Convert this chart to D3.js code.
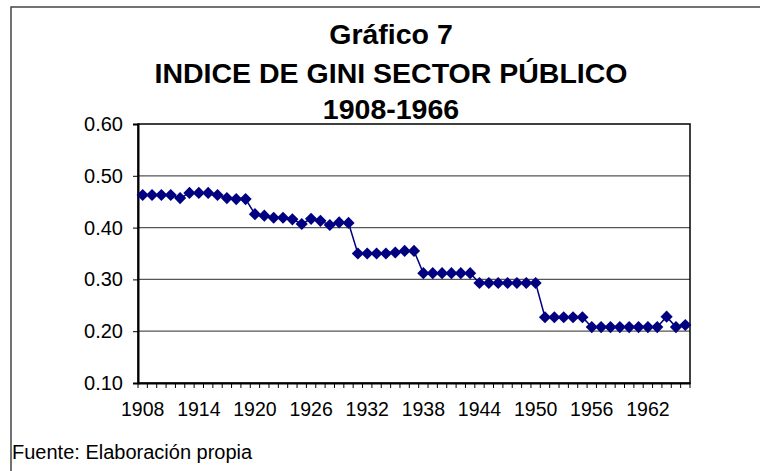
<!DOCTYPE html>
<html>
<head>
<meta charset="utf-8">
<script src="https://cdn.jsdelivr.net/npm/d3@7"></script>
<style>
  body { margin: 0; background: #fff; }
  text { font-family: Arial, "Liberation Sans", sans-serif; }
</style>
</head>
<body>
<div id="chart"></div>
<script>
// Data
const years = d3.range(1908, 1967);
const gini = [
  0.463, 0.463, 0.463, 0.463, 0.457, 0.467, 0.467, 0.467, 0.463, 0.457,
  0.455, 0.455, 0.426, 0.423, 0.419, 0.419, 0.416, 0.407, 0.417, 0.413,
  0.405, 0.410, 0.409, 0.350, 0.350, 0.350, 0.350, 0.352, 0.355, 0.355,
  0.312, 0.312, 0.312, 0.312, 0.312, 0.312, 0.293, 0.293, 0.293, 0.293,
  0.293, 0.293, 0.293, 0.227, 0.227, 0.227, 0.227, 0.227, 0.208, 0.208,
  0.208, 0.208, 0.208, 0.208, 0.208, 0.208, 0.228, 0.208, 0.212
];
const yTicks = [0.1, 0.2, 0.3, 0.4, 0.5, 0.6];
const xLabels = [1908, 1914, 1920, 1926, 1932, 1938, 1944, 1950, 1956, 1962];
const titleLines = ["Gráfico 7", "INDICE DE GINI SECTOR PÚBLICO", "1908-1966"];
const source = "Fuente: Elaboración propia";

const width = 760, height = 471;
const plot = { left: 138, right: 690, top: 124, bottom: 383 };

const svg = d3.select("#chart").append("svg")
    .attr("width", width)
    .attr("height", height);

// Outer chart frame (right and bottom edges fall outside the picture)
svg.append("path")
    .attr("d", `M11,${height} V7 H${width}`)
    .attr("fill", "none")
    .attr("stroke", "#444")
    .attr("stroke-width", 1.5);

// Title
svg.selectAll(".title")
    .data(titleLines)
    .enter()
    .append("text")
    .attr("class", "title")
    .attr("x", 391)
    .attr("y", (d, i) => [44, 83, 119][i])
    .attr("text-anchor", "middle")
    .attr("font-size", "28.5px")
    .attr("font-weight", "bold")
    .text(d => d);

// Scales
const x = d3.scaleBand()
    .domain(years)
    .range([plot.left, plot.right]);

const y = d3.scaleLinear()
    .domain([0.1, 0.6])
    .range([plot.bottom, plot.top]);

// Horizontal gridlines
svg.selectAll(".grid")
    .data(yTicks.slice(1, -1))
    .enter()
    .append("line")
    .attr("class", "grid")
    .attr("x1", plot.left)
    .attr("x2", plot.right)
    .attr("y1", d => y(d))
    .attr("y2", d => y(d))
    .attr("stroke", "#555")
    .attr("stroke-width", 1.2);

// Plot area border
svg.append("rect")
    .attr("x", plot.left)
    .attr("y", plot.top)
    .attr("width", plot.right - plot.left)
    .attr("height", plot.bottom - plot.top)
    .attr("fill", "none")
    .attr("stroke", "#000")
    .attr("stroke-width", 1.5);

// Y axis
const yAxis = svg.append("g")
    .attr("transform", `translate(${plot.left},0)`)
    .call(d3.axisLeft(y)
        .tickValues(yTicks)
        .tickFormat(d3.format(".2f"))
        .tickSize(5)
        .tickPadding(10));
yAxis.select(".domain").attr("stroke", "#000").attr("stroke-width", 2);
yAxis.selectAll("text").attr("font-size", "20px").attr("fill", "#000");

// X axis: tick marks on category boundaries, labels every six years
const xAxis = svg.append("g")
    .attr("transform", `translate(0,${plot.bottom})`)
    .call(d3.axisBottom(x)
        .tickValues(xLabels)
        .tickSize(0)
        .tickPadding(19));
xAxis.select(".domain").attr("stroke", "#000").attr("stroke-width", 2);
xAxis.selectAll("text").attr("font-size", "19.5px").attr("fill", "#000");

xAxis.selectAll(".minor")
    .data(years.map(d => x(d)).concat([x.range()[1]]))
    .enter()
    .append("line")
    .attr("class", "minor")
    .attr("x1", d => d)
    .attr("x2", d => d)
    .attr("y1", 0)
    .attr("y2", 5)
    .attr("stroke", "#000")
    .attr("stroke-width", 1);

// Series line
const points = years.map((yr, i) => ({ year: yr, value: gini[i] }));
const line = d3.line()
    .x(d => x(d.year) + x.bandwidth() / 2)
    .y(d => y(d.value));

svg.append("path")
    .datum(points)
    .attr("d", line)
    .attr("fill", "none")
    .attr("stroke", "#000080")
    .attr("stroke-width", 1.5);

// Diamond markers
svg.selectAll(".marker")
    .data(points)
    .enter()
    .append("path")
    .attr("class", "marker")
    .attr("d", d3.symbol().type(d3.symbolSquare).size(74))
    .attr("transform", d => `translate(${x(d.year) + x.bandwidth() / 2},${y(d.value)}) rotate(45)`)
    .attr("fill", "#000080");

// Source note
svg.append("text")
    .attr("x", 12)
    .attr("y", 459)
    .attr("font-size", "20px")
    .attr("fill", "#000")
    .text(source);
</script>
</body>
</html>
